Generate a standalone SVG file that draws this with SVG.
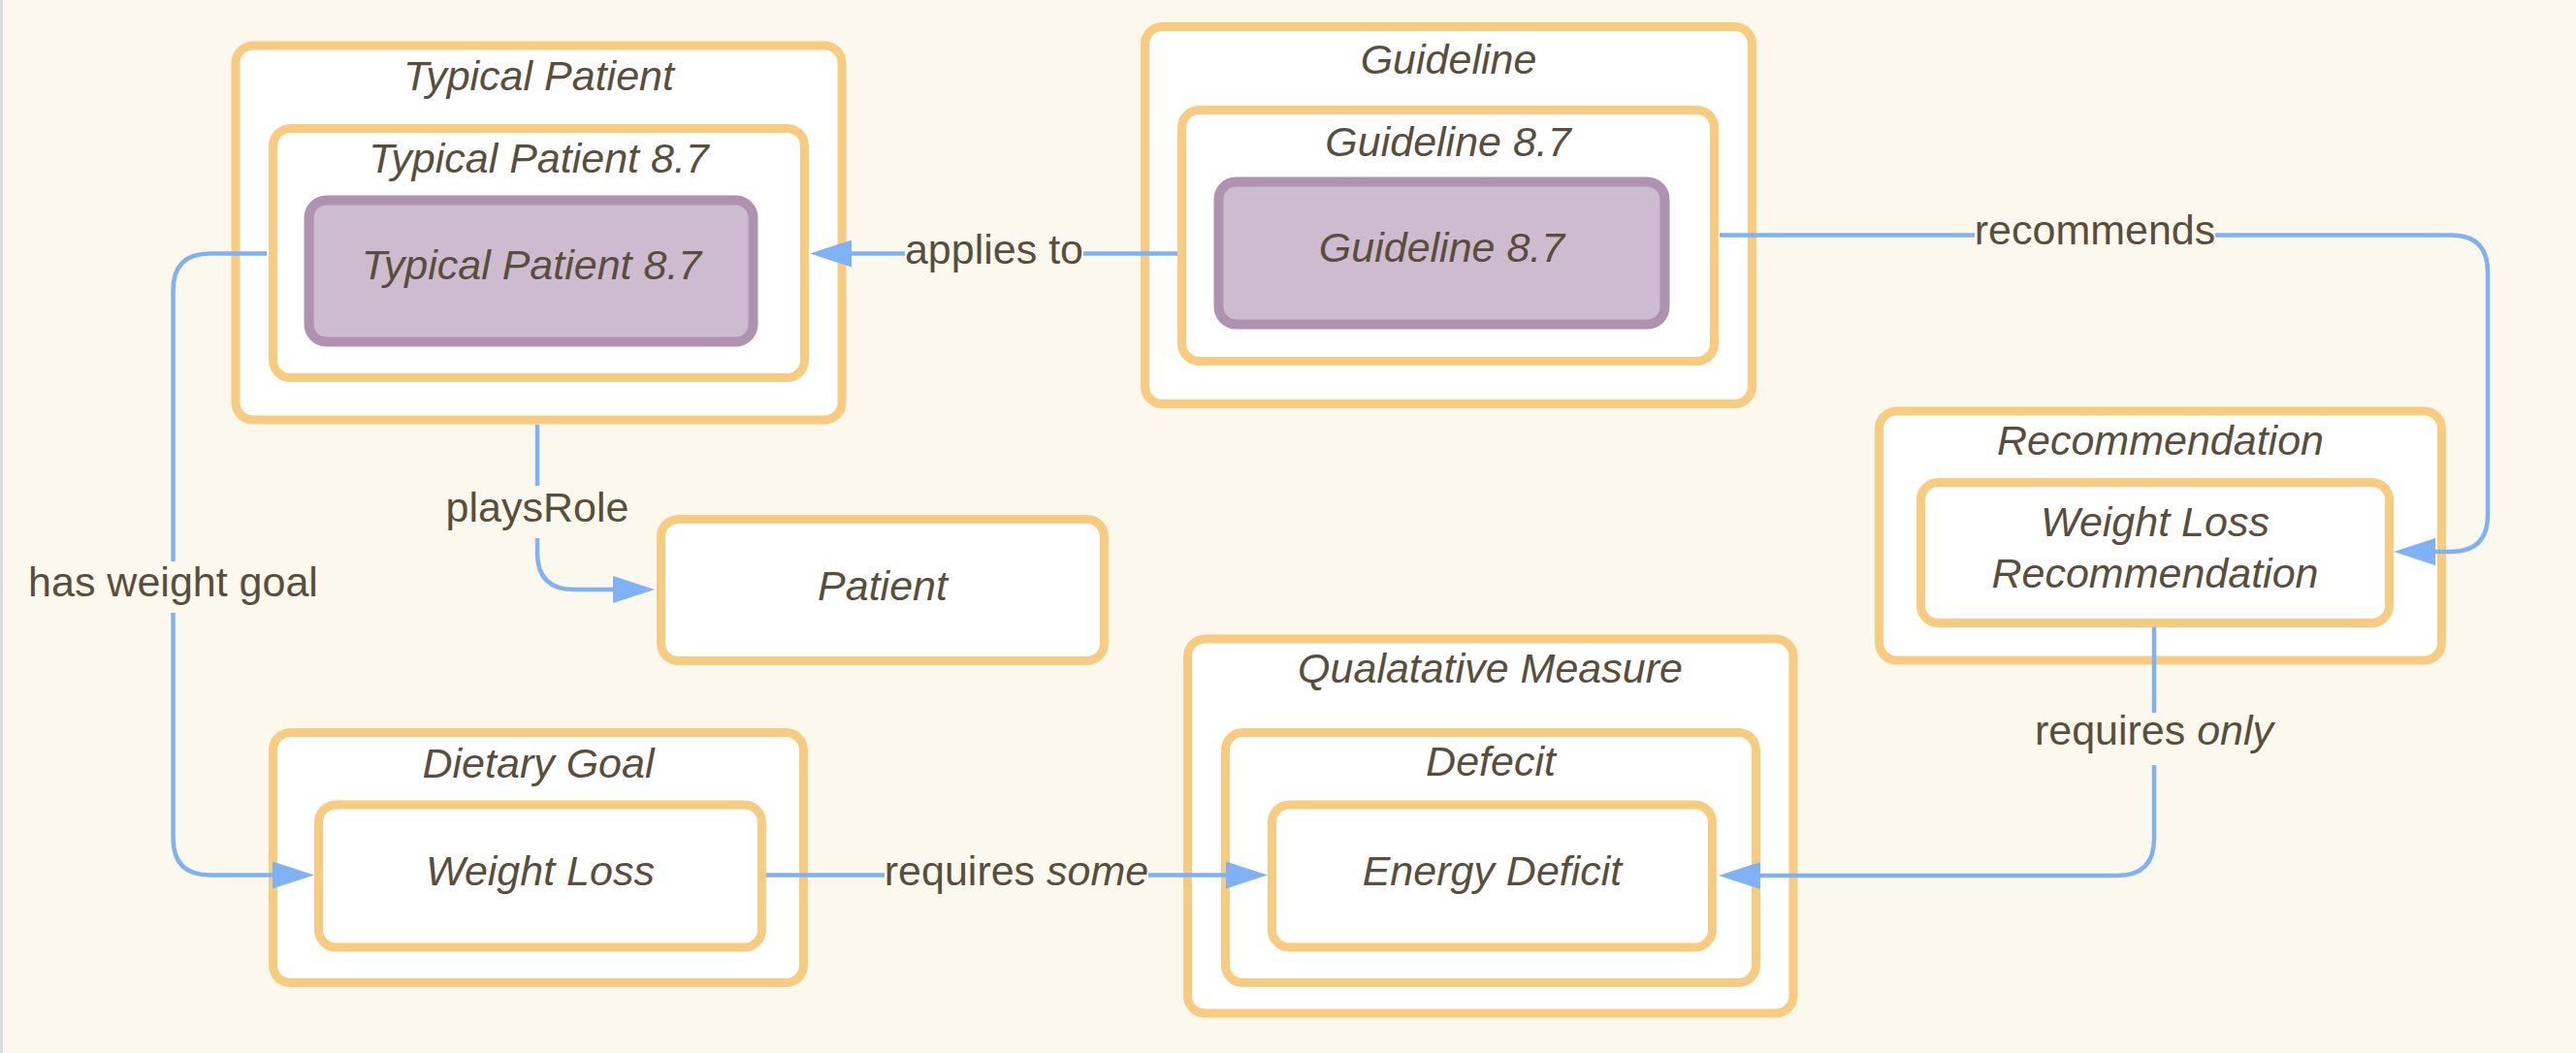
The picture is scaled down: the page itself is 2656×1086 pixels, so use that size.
<svg xmlns="http://www.w3.org/2000/svg" width="2656" height="1086" viewBox="0 0 2656 1086">
<style>
.bg{fill:#fdf8ee}
.o{fill:#ffffff;stroke:#f7cb80;stroke-width:9}
.p{fill:#cdbcd0;stroke:#ae92b0;stroke-width:10}
.t{font-family:"Liberation Sans",Arial,sans-serif;font-size:43px;font-style:italic;fill:#594e3c;text-anchor:middle}
.l{font-family:"Liberation Sans",Arial,sans-serif;font-size:43px;fill:#594e3c;text-anchor:middle}
.c{fill:none;stroke:#7fb2f5;stroke-width:4.5}
.lb{fill:#fdf8ee}
</style>
<defs>
<marker id="arr" markerUnits="userSpaceOnUse" viewBox="0 0 43 28" refX="0" refY="14" markerWidth="43" markerHeight="28" orient="auto">
<path d="M0,0 L43,14 L0,28 z" fill="#7fb2f5"/>
</marker>
</defs>
<rect class="bg" x="0" y="0" width="2656" height="1086"/>
<rect x="0" y="0" width="3" height="1086" fill="#dcdcdc"/>

<g id="typical-patient">
<rect class="o" x="243" y="47" width="625" height="386" rx="18"/>
<text class="t" x="555.5" y="93">Typical Patient</text>
<g id="typical-patient-87">
<rect class="o" x="281.5" y="132.5" width="548" height="257" rx="18"/>
<text class="t" x="555.5" y="178">Typical Patient 8.7</text>
<g id="typical-patient-87-inst">
<rect class="p" x="318.5" y="206.5" width="458" height="146" rx="18"/>
<text class="t" x="548" y="288">Typical Patient 8.7</text>
</g>
</g>
</g>

<g id="guideline">
<rect class="o" x="1180.5" y="27.5" width="626" height="389" rx="18"/>
<text class="t" x="1493.5" y="76">Guideline</text>
<g id="guideline-87">
<rect class="o" x="1218.5" y="113.5" width="549" height="259" rx="18"/>
<text class="t" x="1493" y="161">Guideline 8.7</text>
<g id="guideline-87-inst">
<rect class="p" x="1256.5" y="187.5" width="460" height="147" rx="18"/>
<text class="t" x="1486.5" y="270">Guideline 8.7</text>
</g>
</g>
</g>

<g id="patient">
<rect class="o" x="681.5" y="535.5" width="457" height="146" rx="18"/>
<text class="t" x="910" y="619">Patient</text>
</g>

<g id="dietary-goal">
<rect class="o" x="281.5" y="755.5" width="547" height="258" rx="18"/>
<text class="t" x="555" y="802">Dietary Goal</text>
<g id="weight-loss">
<rect class="o" x="328.5" y="830" width="457" height="147" rx="18"/>
<text class="t" x="557" y="913">Weight Loss</text>
</g>
</g>

<g id="qualatative-measure">
<rect class="o" x="1224.5" y="659" width="624.5" height="386" rx="18"/>
<text class="t" x="1536.5" y="704">Qualatative Measure</text>
<g id="defecit">
<rect class="o" x="1263.5" y="755.5" width="547" height="258" rx="18"/>
<text class="t" x="1537" y="800">Defecit</text>
<g id="energy-deficit">
<rect class="o" x="1311.5" y="830" width="454" height="147" rx="18"/>
<text class="t" x="1538.5" y="913">Energy Deficit</text>
</g>
</g>
</g>

<g id="recommendation">
<rect class="o" x="1937.5" y="424" width="580" height="257" rx="18"/>
<text class="t" x="2227.5" y="469">Recommendation</text>
<g id="weight-loss-recommendation">
<rect class="o" x="1980.5" y="497.5" width="483" height="145" rx="18"/>
<text class="t" x="2222" y="553">Weight Loss</text>
<text class="t" x="2222" y="606">Recommendation</text>
</g>
</g>

<g id="connectors">
<path class="c" d="M1214,261.5 H878" marker-end="url(#arr)"/>
<path class="c" d="M1773,242.5 H2527 Q2565,242.5 2565,280.5 V531 Q2565,569 2527,569 H2511" marker-end="url(#arr)"/>
<path class="c" d="M554,438 V570 Q554,608 592,608 H632" marker-end="url(#arr)"/>
<path class="c" d="M275,261.5 H216.5 Q178.5,261.5 178.5,299.5 V864.5 Q178.5,902.5 216.5,902.5 H281" marker-end="url(#arr)"/>
<path class="c" d="M790,902.5 H1264" marker-end="url(#arr)"/>
<path class="c" d="M2221,647 V865 Q2221,903 2183,903 H1815" marker-end="url(#arr)"/>

<rect class="lb" x="933" y="236" width="184" height="50"/>
<text class="l" x="1025" y="272">applies to</text>
<rect class="lb" x="2036" y="217" width="248" height="50"/>
<text class="l" x="2160" y="252">recommends</text>
<rect class="lb" x="460" y="501" width="189" height="54"/>
<text class="l" x="554" y="538">playsRole</text>
<rect class="lb" x="29" y="579" width="299" height="53"/>
<text class="l" x="178.5" y="615">has weight goal</text>
<rect class="lb" x="912" y="877" width="272" height="50"/>
<text class="l" x="1048" y="913">requires <tspan font-style="italic">some</tspan></text>
<rect class="lb" x="2098" y="735" width="246" height="54"/>
<text class="l" x="2221" y="768">requires <tspan font-style="italic">only</tspan></text>
</g>
</svg>
